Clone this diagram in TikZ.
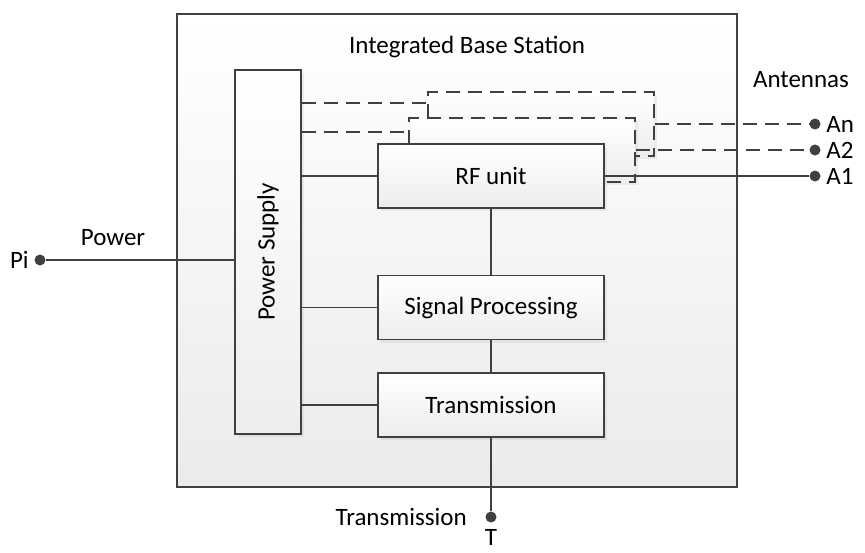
\documentclass[tikz,border=0pt]{standalone}
\usepackage{fontspec}
\setmainfont{Carlito}
\usetikzlibrary{positioning, shadows}
\definecolor{linec}{HTML}{404040}

\begin{document}
\begin{tikzpicture}[x=0.5pt, y=-0.5pt, font=\fontsize{12.5}{15}\selectfont]

\tikzset{block/.style = {draw=linec, line width=0.8pt, top color=white, bottom color=black!7, minimum width=113pt, minimum height=32pt, drop shadow={opacity=0.12, shadow xshift=1.5pt, shadow yshift=-1.5pt}}}
\tikzset{ghost/.style = {block, dash pattern=on 7pt off 4pt}}
\tikzset{port/.style = {circle, fill=linec, inner sep=0pt, minimum size=5.5pt}}
\tikzset{wire/.style = {draw=linec, line width=0.8pt}}
\tikzset{dwire/.style = {wire, dash pattern=on 7pt off 4pt}}
\tikzset{tag/.style = {inner sep=1pt}}

\useasboundingbox (0,0) rectangle (865,552);

%station
\node[draw=linec, line width=0.8pt, top color=white, bottom color=black!8, minimum width=280pt, minimum height=236.5pt] (ibs) at (457,250.5) {};
\node (title) at (467,47) {Integrated Base Station};

%blocks
\node[block, rotate=90, minimum width=182pt, minimum height=33pt] (ps) at (268,252) {Power Supply};
\node[ghost] (g3) at (541,124) {};
\node[ghost] (g2) at (522,150) {};
\node[block] (rf) at (491,176) {RF unit};
\node[block] (sp) at (491,307.5) {Signal Processing};
\node[block] (tx) at (491,405) {Transmission};

%ports
\node[port] (an) at (815,124) {};
\node[port] (a2) at (815,150) {};
\node[port] (a1) at (815,176) {};
\node[port] (pi) at (40,260) {};
\node[port] (t) at (491,517) {};
\node[tag, right=1.5pt of an] (anl) {An};
\node[tag, right=1.5pt of a2] (a2l) {A2};
\node[tag, right=1.5pt of a1] (a1l) {A1};
\node (ant) at (801,80) {Antennas};
\node[tag, left=1.5pt of pi] (pil) {Pi};
\node (pow) at (113,238) {Power};
\node[tag, left=8pt of t] (txl) {Transmission};
\node[tag, below=2pt of t] (tl) {T};

%edges
\draw[wire] (pi) -- (pi -| ps.north);
\draw[wire] (rf.west -| ps.south) -- (rf.west);
\draw[wire] (sp.west -| ps.south) -- (sp.west);
\draw[wire] (tx.west -| ps.south) -- (tx.west);
\draw[dwire] ([yshift=-6pt]g3.north west -| ps.south) -- ([yshift=-6pt]g3.north west);
\draw[dwire] ([yshift=-7.5pt]g2.north west -| ps.south) -- ([yshift=-7.5pt]g2.north west);
\draw[wire] (rf) -- (sp);
\draw[wire] (sp) -- (tx);
\draw[wire] (tx) -- (t);
\draw[wire] (rf.east) -- (a1);
\draw[dwire] (g2.east) -- (a2);
\draw[dwire] (g3.east) -- (an);

\end{tikzpicture}
\end{document}
